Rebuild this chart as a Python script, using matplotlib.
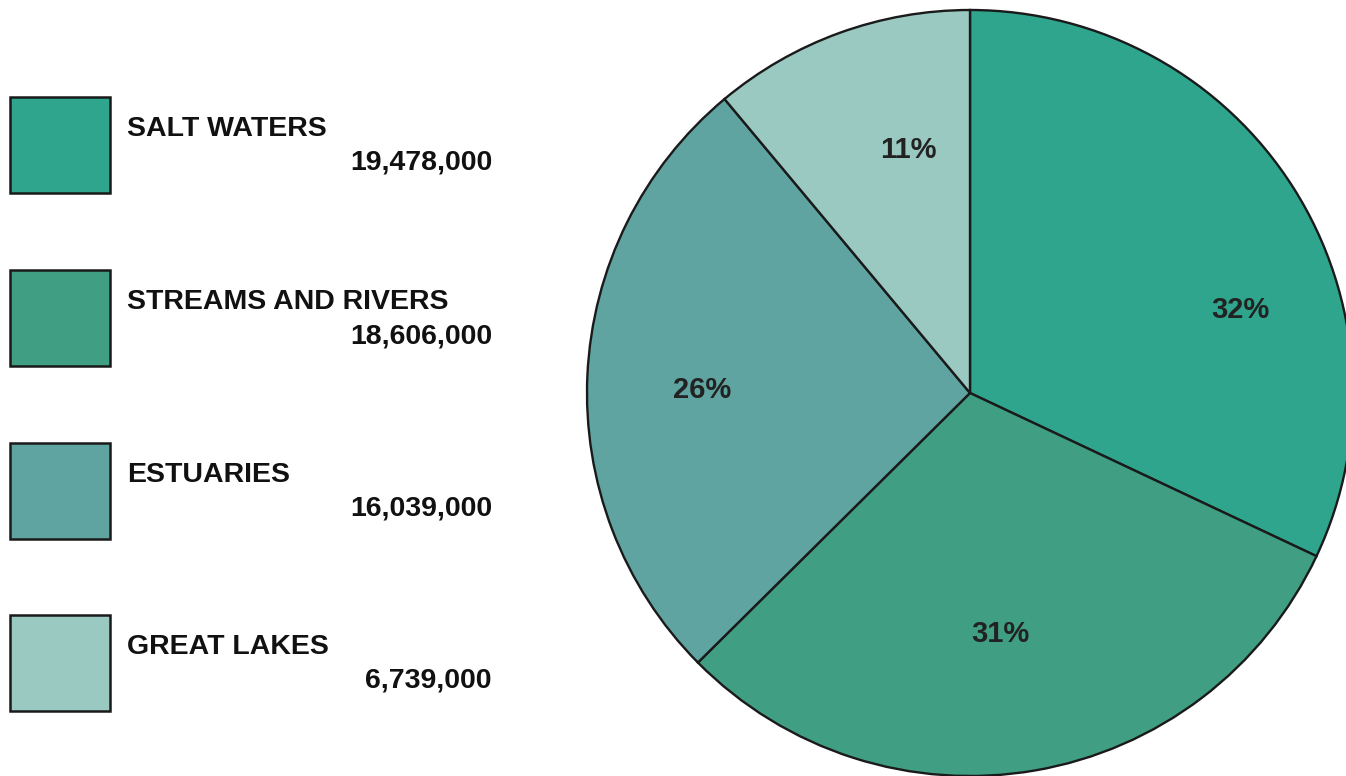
import numpy as np
import matplotlib
matplotlib.use("Agg")
from matplotlib import pyplot as plt
from matplotlib.patches import Rectangle

# data
categories = ["SALT WATERS", "STREAMS AND RIVERS", "ESTUARIES", "GREAT LAKES"]
acres = [19478000, 18606000, 16039000, 6739000]
colors = ["#2ea58c", "#409e83", "#5fa4a0", "#99c9c0"]

W, H = 1346, 776
fig = plt.figure(figsize=(W / 100, H / 100), dpi=100)
ax = fig.add_axes([0, 0, 1, 1])

plt.rcParams["font.family"] = ["Liberation Sans", "DejaVu Sans"]

cx, cy, r = 970, H - 393, 383
wedges, _ = ax.pie(acres, colors=colors, startangle=90, counterclock=False,
                   center=(cx, cy), radius=r, frame=True,
                   wedgeprops=dict(edgecolor="#1a1a1a", linewidth=1.7))
ax.set_xlim(0, W)
ax.set_ylim(0, H)
ax.set_aspect("equal")
ax.axis("off")

# percent labels: angle (deg) and radius fraction for each wedge
total = sum(acres)
label_pos = [(17.5, 0.74), (-82.8, 0.63), (179.0, 0.70), (104.0, 0.66)]
for v, (ang, frac) in zip(acres, label_pos):
    pct = round(v / total * 100)
    a = np.radians(ang)
    ax.text(cx + frac * r * np.cos(a), cy + frac * r * np.sin(a) - 2, f"{pct}%",
            ha="center", va="center", fontsize=21, fontweight="bold",
            color="#222222")

# legend
box_top = [97, 270, 443, 615]
for top, name, v, c in zip(box_top, categories, acres, colors):
    ax.add_patch(Rectangle((10, H - top - 96), 100, 96, facecolor=c,
                           edgecolor="#1a1a1a", linewidth=1.8))
    ax.text(127, H - top - 32, name, ha="left", va="center", fontsize=20.5,
            fontweight="bold", color="#111111")
    ax.text(492, H - top - 66, f"{v:,}", ha="right", va="center",
            fontsize=20.5, fontweight="bold", color="#111111")

fig.savefig("out.png", dpi=100, facecolor="white")
